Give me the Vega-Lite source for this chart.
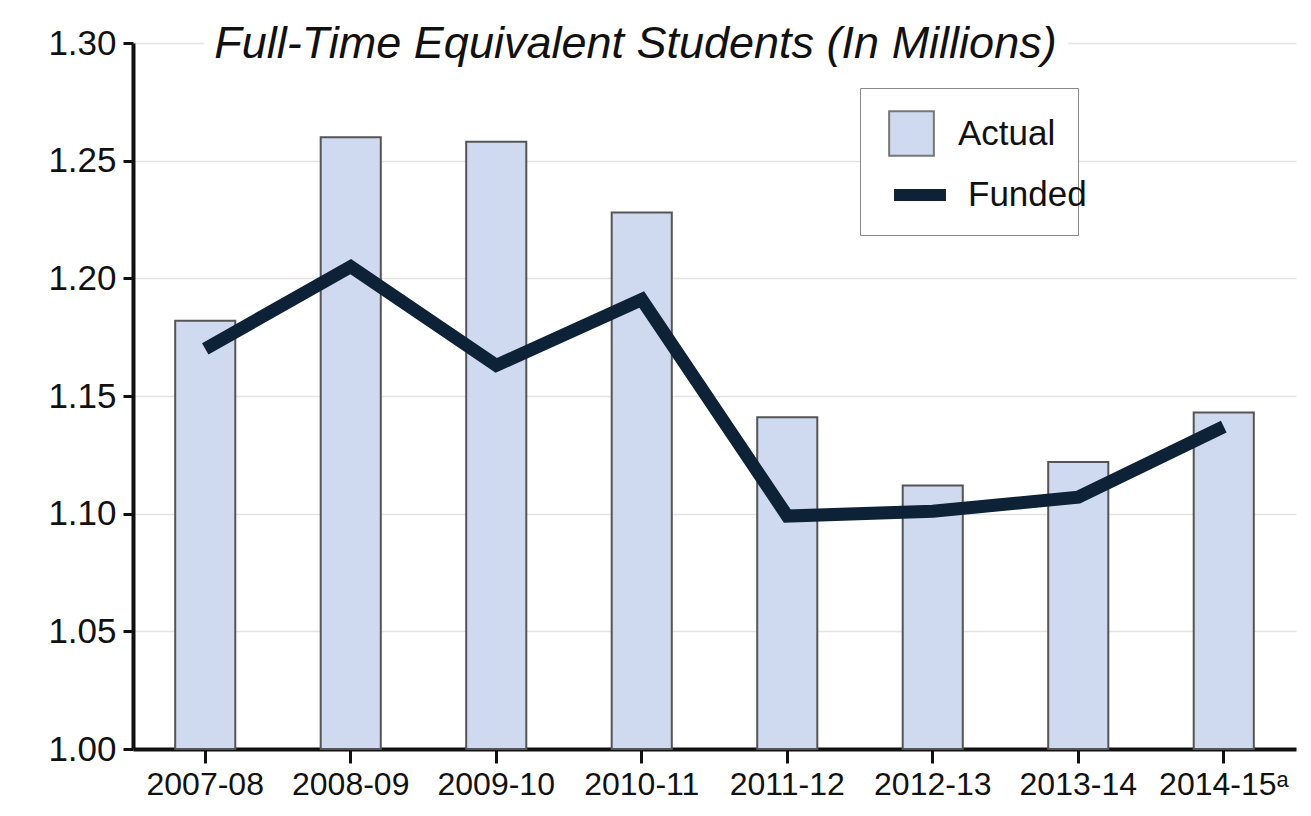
{
  "$schema": "https://vega.github.io/schema/vega-lite/v6.json",
  "autosize": {"type": "none"},
  "padding": {"left": 133, "top": 43, "right": 15, "bottom": 67},
  "width": 1163,
  "height": 706,
  "background": "white",
  "config": {
    "font": "Liberation Sans",
    "view": {"stroke": null}
  },
  "data": {
    "values": [
      {"year": "2007-08", "actual": 1.182, "funded": 1.170},
      {"year": "2008-09", "actual": 1.260, "funded": 1.205},
      {"year": "2009-10", "actual": 1.258, "funded": 1.163},
      {"year": "2010-11", "actual": 1.228, "funded": 1.191},
      {"year": "2011-12", "actual": 1.141, "funded": 1.099},
      {"year": "2012-13", "actual": 1.112, "funded": 1.101},
      {"year": "2013-14", "actual": 1.122, "funded": 1.107},
      {"year": "2014-15ᵃ", "actual": 1.143, "funded": 1.137}
    ]
  },
  "encoding": {
    "x": {
      "field": "year",
      "type": "nominal",
      "sort": null,
      "scale": {"paddingInner": 0.587, "paddingOuter": 0.29},
      "axis": {
        "title": null,
        "labelAngle": 0,
        "labelFontSize": 32,
        "labelColor": "#111",
        "labelPadding": 6,
        "tickSize": 14,
        "tickWidth": 3,
        "tickColor": "#111",
        "domainColor": "#111",
        "domainWidth": 4
      }
    }
  },
  "layer": [
    {
      "mark": {"type": "bar", "stroke": "#555", "strokeWidth": 2},
      "encoding": {
        "y": {
          "field": "actual",
          "type": "quantitative",
          "scale": {"domain": [1.0, 1.3], "zero": false, "nice": false},
          "axis": {
            "title": null,
            "values": [1.0, 1.05, 1.1, 1.15, 1.2, 1.25, 1.3],
            "format": ".2f",
            "labelFontSize": 35,
            "labelColor": "#111",
            "labelPadding": 7,
            "tickSize": 10,
            "tickWidth": 3,
            "tickColor": "#111",
            "domainColor": "#111",
            "domainWidth": 4,
            "grid": true,
            "gridColor": "#e3e3e3",
            "gridWidth": 1.5
          }
        },
        "y2": {"datum": 1.0},
        "fill": {
          "datum": "Actual",
          "scale": {"domain": ["Actual"], "range": ["#cfd9ef"]},
          "legend": {
            "title": "\u00a0\u00a0\u00a0\u00a0\u00a0\u00a0\u00a0\u00a0\u00a0\u00a0\u00a0\u00a0\u00a0\u00a0\u00a0\u00a0\u00a0\u00a0\u00a0\u00a0\u00a0",
            "titleOrient": "bottom",
            "titleFontSize": 35,
            "titlePadding": 18,
            "orient": "none",
            "legendX": 727,
            "legendY": 45,
            "fillColor": "white",
            "strokeColor": "#888",
            "padding": 22,
            "labelFontSize": 35,
            "labelColor": "#111",
            "symbolType": "square",
            "symbolSize": 2000,
            "symbolStrokeColor": "#777",
            "symbolStrokeWidth": 2,
            "labelOffset": 23,
            "labelLimit": 400,
            "symbolOffset": 6,
            "offset": 0,
            "zindex": 0
          }
        }
      }
    },
    {
      "mark": {"type": "line", "strokeWidth": 13, "strokeCap": "butt", "strokeJoin": "miter"},
      "encoding": {
        "y": {"field": "funded", "type": "quantitative"},
        "stroke": {
          "datum": "Funded",
          "scale": {"domain": ["Funded"], "range": ["#0d2137"]},
          "legend": {
            "title": null,
            "orient": "none",
            "legendX": 755,
            "legendY": 120,
            "padding": 0,
            "labelFontSize": 35,
            "labelColor": "#111",
            "symbolType": "stroke",
            "symbolSize": 2700,
            "symbolStrokeWidth": 12,
            "labelOffset": 16,
            "labelLimit": 400,
            "symbolOffset": 0,
            "offset": 0,
            "zindex": 2
          }
        }
      }
    },
    {
      "data": {"values": [{"label": "Full-Time Equivalent Students (In Millions)"}]},
      "mark": {"type": "text", "align": "left", "baseline": "middle", "dx": 9, "dy": 1, "fontSize": 45, "fontStyle": "italic", "stroke": "white", "strokeWidth": 28, "fill": "white", "strokeJoin": "round"},
      "encoding": {
        "x": {"datum": "2007-08"},
        "y": {"datum": 1.3},
        "text": {"field": "label"}
      }
    },
    {
      "data": {"values": [{"label": "Full-Time Equivalent Students (In Millions)"}]},
      "mark": {"type": "text", "align": "left", "baseline": "middle", "dx": 9, "dy": 1, "fontSize": 45, "fontStyle": "italic", "fill": "#111"},
      "encoding": {
        "x": {"datum": "2007-08"},
        "y": {"datum": 1.3},
        "text": {"field": "label"}
      }
    }
  ]
}
